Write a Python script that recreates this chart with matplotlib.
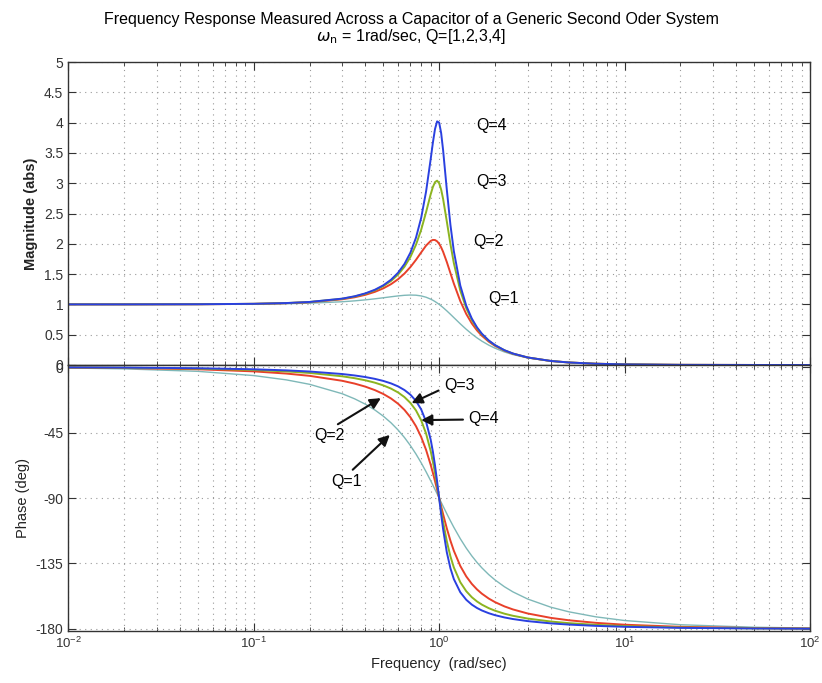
import matplotlib
matplotlib.use("Agg")
import matplotlib.pyplot as plt
from matplotlib.ticker import LogLocator

plt.rcParams["font.family"] = ["Liberation Sans", "DejaVu Sans"]

freq = [0.01, 0.02, 0.05, 0.1, 0.15, 0.2, 0.3, 0.35, 0.4, 0.45, 0.5, 0.55,
        0.6, 0.65, 0.7, 0.75, 0.8, 0.85, 0.9, 0.925, 0.95, 0.975, 1.0, 1.025,
        1.05, 1.1, 1.15, 1.2, 1.3, 1.4, 1.5, 1.6, 1.7, 1.85, 2.0, 2.25, 2.5,
        3.0, 4.0, 5.0, 7.0, 10.0, 20.0, 50.0, 100.0]

mag_q1 = [1.0, 1.0002, 1.0012, 1.005, 1.0112, 1.0198, 1.0437, 1.0585, 1.0748,
          1.0921, 1.1094, 1.1258, 1.1399, 1.1501, 1.1546, 1.1517, 1.1399,
          1.1184, 1.0871, 1.0681, 1.0471, 1.0243, 1.0, 0.9744, 0.9479, 0.8930,
          0.8373, 0.7824, 0.6795, 0.5891, 0.5121, 0.4475, 0.3934, 0.3281,
          0.2774, 0.2153, 0.1720, 0.1170, 0.0644, 0.0408, 0.0206, 0.0100,
          0.0025, 0.0004, 0.0001]
mag_q2 = [1.0001, 1.0003, 1.0022, 1.0088, 1.0200, 1.0361, 1.0843, 1.1176,
          1.1581, 1.2068, 1.2649, 1.3338, 1.4148, 1.5091, 1.6167, 1.7354,
          1.8582, 1.9702, 2.0472, 2.0639, 2.0623, 2.0409, 2.0, 1.9418, 1.8695,
          1.6986, 1.5168, 1.3440, 1.0549, 0.8417, 0.6860, 0.5704, 0.4825,
          0.3856, 0.3162, 0.2372, 0.1853, 0.1229, 0.0661, 0.0414, 0.0208,
          0.0101, 0.0025, 0.0004, 0.0001]
mag_q3 = [1.0001, 1.0004, 1.0024, 1.0095, 1.0217, 1.0392, 1.0923, 1.1297,
          1.1758, 1.2323, 1.3016, 1.3866, 1.4914, 1.6212, 1.7830, 1.9846,
          2.2321, 2.5215, 2.8161, 2.9372, 3.0181, 3.0420, 3.0, 2.8952, 2.7420,
          2.3666, 1.9962, 1.6817, 1.2273, 0.9368, 0.7428, 0.6066, 0.5068,
          0.4000, 0.3254, 0.2421, 0.1881, 0.1240, 0.0664, 0.0416, 0.0208,
          0.0101, 0.0025, 0.0004, 0.0001]
mag_q4 = [1.0001, 1.0004, 1.0025, 1.0098, 1.0223, 1.0403, 1.0952, 1.1340,
          1.1821, 1.2416, 1.3152, 1.4066, 1.5213, 1.6669, 1.8546, 2.1009,
          2.4282, 2.8611, 3.3957, 3.6681, 3.8951, 4.0209, 4.0, 3.8285, 3.5486,
          2.8901, 2.3146, 1.8778, 1.3111, 0.9787, 0.7663, 0.6209, 0.5162,
          0.4055, 0.3288, 0.2438, 0.1891, 0.1245, 0.0665, 0.0416, 0.0208,
          0.0101, 0.0025, 0.0004, 0.0001]

ph_q1 = [-0.57, -1.15, -2.87, -5.77, -8.73, -11.77, -18.25, -21.75, -25.46,
         -29.43, -33.69, -38.25, -43.15, -48.38, -53.93, -59.74, -65.77, -71.92,
         -78.08, -81.13, -84.14, -87.10, -90.0, -92.83, -95.58, -100.81,
         -105.66, -110.14, -117.96, -124.44, -129.81, -134.27, -138.03,
         -142.63, -146.31, -151.02, -154.54, -159.44, -165.07, -168.23,
         -171.70, -174.23, -177.13, -178.85, -179.43]
ph_q2 = [-0.29, -0.57, -1.44, -2.89, -4.39, -5.95, -9.36, -11.28, -13.39,
         -15.76, -18.43, -21.52, -25.11, -29.37, -34.46, -40.60, -48.01, -56.86,
         -67.11, -72.66, -78.40, -84.22, -90.0, -95.64, -101.05, -110.90,
         -119.29, -126.25, -136.71, -143.90, -149.04, -152.85, -155.78,
         -159.10, -161.57, -164.52, -166.61, -169.38, -172.41, -174.05,
         -175.83, -177.11, -178.56, -179.43, -179.71]
ph_q3 = [-0.19, -0.38, -0.96, -1.93, -2.93, -3.97, -6.27, -7.57, -9.02,
         -10.65, -12.53, -14.73, -17.35, -20.56, -24.59, -29.74, -36.53, -45.59,
         -57.65, -64.91, -72.89, -81.36, -90.0, -98.43, -106.32, -119.80,
         -130.08, -137.73, -147.87, -154.08, -158.20, -161.13, -163.31,
         -165.72, -167.47, -169.54, -170.98, -172.87, -174.92, -176.03,
         -177.22, -178.07, -179.04, -179.62, -179.81]
ph_q4 = [-0.14, -0.29, -0.72, -1.45, -2.20, -2.98, -4.71, -5.69, -6.79,
         -8.03, -9.46, -11.15, -13.19, -15.72, -18.94, -23.20, -29.05, -37.45,
         -49.82, -58.02, -67.68, -78.55, -90.0, -101.18, -111.33, -127.37,
         -138.28, -145.71, -154.78, -159.97, -163.30, -165.62, -167.33,
         -169.19, -170.54, -172.12, -173.21, -174.64, -176.19, -177.02,
         -177.91, -178.55, -179.28, -179.71, -179.86]

colors = {"Q=1": "#7fb8b8", "Q=2": "#e8402a", "Q=3": "#8cb420", "Q=4": "#2a40e0"}

fig = plt.figure(figsize=(8.22, 6.83), dpi=100)
ax1 = fig.add_axes([0.083, 0.4656, 0.9025, 0.4436])
ax2 = fig.add_axes([0.083, 0.076, 0.9025, 0.3896], sharex=ax1)

for ax in (ax1, ax2):
    ax.set_xscale("log")
    ax.set_xlim(1e-2, 1e2)
    ax.xaxis.set_major_locator(LogLocator(base=10, numticks=10))
    ax.xaxis.set_minor_locator(LogLocator(base=10, subs=range(2, 10), numticks=50))
    ax.grid(True, which="major", axis="both", ls=(0, (1, 4)), color="#999999", lw=0.8)
    ax.grid(True, which="minor", axis="x", ls=(0, (1, 4)), color="#999999", lw=0.8)
    ax.tick_params(which="both", direction="in", top=True, right=True,
                   labelsize=10, colors="#333333")
    ax.tick_params(which="major", length=6)
    ax.tick_params(which="minor", length=3)
    for s in ax.spines.values():
        s.set_color("#333333")
        s.set_linewidth(1.0)

ax1.plot(freq, mag_q1, color=colors["Q=1"], lw=1.0)
ax1.plot(freq, mag_q2, color=colors["Q=2"], lw=1.4)
ax1.plot(freq, mag_q3, color=colors["Q=3"], lw=1.4)
ax1.plot(freq, mag_q4, color=colors["Q=4"], lw=1.4)
ax1.set_ylim(0, 5)
ax1.set_yticks([0, 0.5, 1, 1.5, 2, 2.5, 3, 3.5, 4, 4.5, 5])
ax1.set_yticklabels(["0", "0.5", "1", "1.5", "2", "2.5", "3", "3.5", "4", "4.5", "5"])
ax1.tick_params(labelbottom=False)
ax1.set_ylabel("Magnitude (abs)", fontsize=10.5, fontweight="bold", color="#222222")

ax1.text(1.59, 3.96, "Q=4", fontsize=11.5, va="center")
ax1.text(1.59, 3.02, "Q=3", fontsize=11.5, va="center")
ax1.text(1.53, 2.03, "Q=2", fontsize=11.5, va="center")
ax1.text(1.85, 1.10, "Q=1", fontsize=11.5, va="center")

ax2.plot(freq, ph_q1, color=colors["Q=1"], lw=1.0)
ax2.plot(freq, ph_q2, color=colors["Q=2"], lw=1.4)
ax2.plot(freq, ph_q3, color=colors["Q=3"], lw=1.4)
ax2.plot(freq, ph_q4, color=colors["Q=4"], lw=1.4)
ax2.set_ylim(-181.5, 1.5)
ax2.set_yticks([-180, -135, -90, -45, 0])
ax2.set_yticklabels(["-180", "-135", "-90", "-45", "0"])
ax2.tick_params(axis="x", labelsize=9.5)
ax2.set_xlabel("Frequency  (rad/sec)", fontsize=10.5, color="#222222")
ax2.set_ylabel("Phase (deg)", fontsize=10.5, color="#222222")


def arw(rp):
    return dict(arrowstyle="-|>", color="#111111", lw=1.5, mutation_scale=16,
                relpos=rp, shrinkA=2, shrinkB=0)


ax2.annotate("Q=3", xy=(0.71, -24.7), xytext=(1.06, -12.3), fontsize=11.5,
             va="center", arrowprops=arw((0.0, 0.3)))
ax2.annotate("Q=4", xy=(0.80, -36.4), xytext=(1.44, -35.5), fontsize=11.5,
             va="center", arrowprops=arw((0.0, 0.45)))
ax2.annotate("Q=2", xy=(0.485, -21.3), xytext=(0.212, -47.3), fontsize=11.5,
             va="center", arrowprops=arw((0.55, 1.0)))
ax2.annotate("Q=1", xy=(0.542, -46.6), xytext=(0.261, -78.9), fontsize=11.5,
             va="center", arrowprops=arw((0.55, 1.0)))

fig.text(0.5, 0.965, "Frequency Response Measured Across a Capacitor of a Generic Second Oder System",
         ha="center", fontsize=11.5)
fig.text(0.5, 0.94, r"$\omega_{\rm n}$ = 1rad/sec, Q=[1,2,3,4]", ha="center", fontsize=11.5)

fig.savefig("out.png", dpi=100)
